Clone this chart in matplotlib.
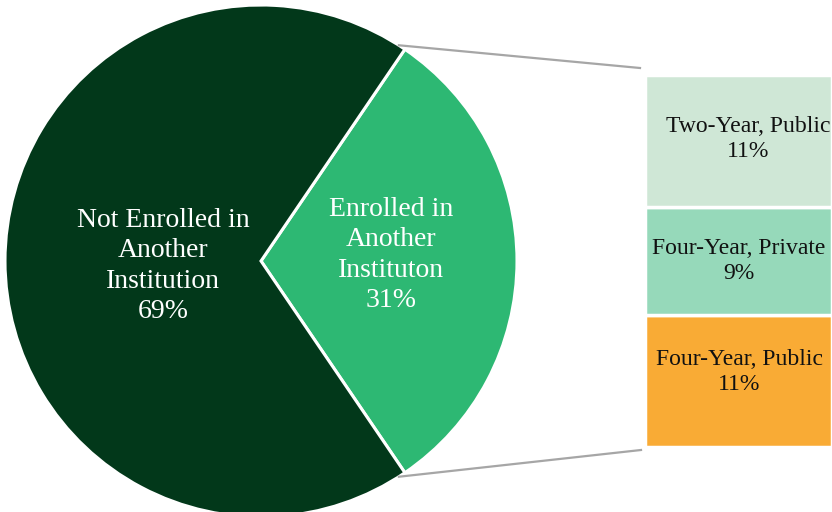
import numpy as np
import matplotlib.pyplot as plt

# Pie: share of students enrolled elsewhere
pie_labels = ["Enrolled in\nAnother\nInstituton", "Not Enrolled in\nAnother\nInstitution"]
pie_values = [31, 69]
pie_colors = ["#2db873", "#02381a"]

# Bar breakdown of the enrolled slice (top to bottom)
bar_labels = ["Two-Year, Public", "Four-Year, Private", "Four-Year, Public"]
bar_values = [11, 9, 11]
bar_colors = ["#cfe7d6", "#96d9ba", "#f9ab35"]

fig = plt.figure(figsize=(8.32, 5.12), dpi=100)
ax = fig.add_axes([0, 0, 1, 1])
plt.rcParams["font.family"] = ["Liberation Serif", "DejaVu Serif"]

cx, cy, r = 261, 251, 256
half = pie_values[0] / sum(pie_values) * 360 / 2
wedges, _ = ax.pie(pie_values, colors=pie_colors, center=(cx, cy), radius=r,
                   startangle=-half, counterclock=True,
                   wedgeprops=dict(edgecolor="white", linewidth=2.2))

# pie labels
ax.text(391, 512 - 255, pie_labels[0] + "\n%d%%" % pie_values[0], color="white",
        ha="center", va="center", fontsize=20, linespacing=1.27)
ax.text(163, 512 - 266, pie_labels[1] + "\n%d%%" % pie_values[1], color="white",
        ha="center", va="center", fontsize=20, linespacing=1.27)

# stacked bar, drawn bottom-up
scale = 12
bx, bw, base = 738.5, 187, 65
bottom = base
tops = {}
for lab, val, col in reversed(list(zip(bar_labels, bar_values, bar_colors))):
    ax.bar(bx, val * scale, width=bw, bottom=bottom, color=col,
           edgecolor="white", linewidth=2.5)
    tops[lab] = (bottom, bottom + val * scale)
    bottom += val * scale

offsets = {"Two-Year, Public": (10, 2), "Four-Year, Private": (0, 0),
           "Four-Year, Public": (1, 9)}
for lab, val in zip(bar_labels, bar_values):
    lo, hi = tops[lab]
    dx, dy = offsets[lab]
    ax.text(bx + dx, (lo + hi) / 2 + dy, "%s\n%d%%" % (lab, val),
            ha="center", va="center", fontsize=17, linespacing=1.22, color="#111111")

# connector lines from the enrolled slice to the bar
t1, t2 = np.radians(wedges[0].theta2), np.radians(wedges[0].theta1)
p_top = (cx + r * np.cos(t1) - 6, cy + r * np.sin(t1) + 4)
p_bot = (cx + r * np.cos(t2) - 6, cy + r * np.sin(t2) - 4)
left = bx - bw / 2
ax.plot([p_top[0], left - 5], [p_top[1], bottom + 7], color="#a6a6a6", lw=1.6)
ax.plot([p_bot[0], left - 4], [p_bot[1], base - 3], color="#a6a6a6", lw=1.6)

ax.set_xlim(0, 832)
ax.set_ylim(0, 512)
ax.set_aspect("equal")
ax.axis("off")
fig.savefig("out.png", dpi=100)
